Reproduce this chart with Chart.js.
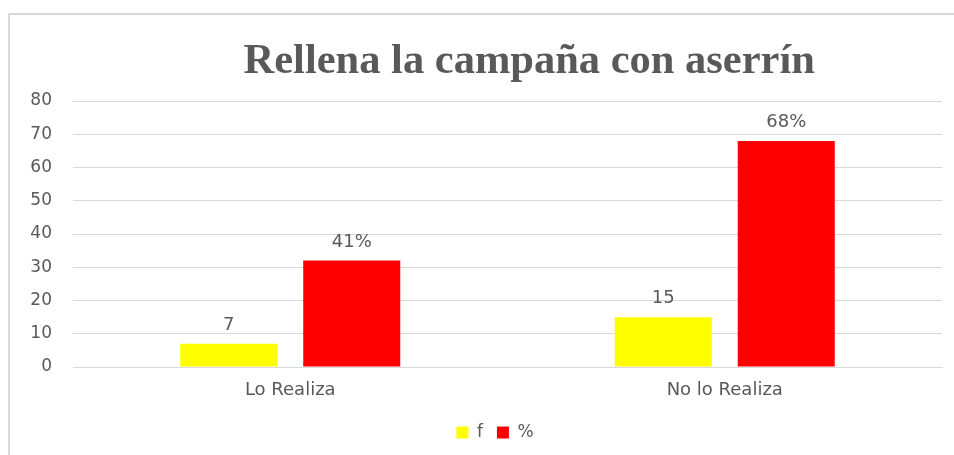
<!DOCTYPE html>
<html>
<head>
<meta charset="utf-8">
<script src="https://cdn.jsdelivr.net/npm/chart.js@4.4.1/dist/chart.umd.min.js"></script>
<style>
  html, body { margin: 0; padding: 0; background: #fff; overflow: hidden; }
  #wrap { position: relative; width: 954px; height: 455px; }
  #frame { position: absolute; left: 8px; top: 13px; width: 1000px; height: 500px;
           border-left: 2px solid #d9d9d9; border-top: 2px solid #d9d9d9; box-sizing: border-box; pointer-events: none; }
  canvas { position: absolute; left: 0; top: 0; }
</style>
</head>
<body>
<div id="wrap">
  <div id="frame"></div>
  <canvas id="c" width="954" height="455"></canvas>
</div>
<script>
const chartTitle = 'Rellena la campaña con aserrín';
const categories = ['Lo Realiza', 'No lo Realiza'];
const seriesNames = ['f', '%'];
const fValues = [7, 15];
const pctValues = [32, 68];
const fLabels = ['7', '15'];
const pctLabels = ['41%', '68%'];
const yTicks = [0, 10, 20, 30, 40, 50, 60, 70, 80];

const GRAY = '#595959';
const SANS = '"DejaVu Sans", "Open Sans", sans-serif';

const valueLabels = {
  id: 'valueLabels',
  afterDatasetsDraw(chart) {
    const ctx = chart.ctx;
    ctx.save();
    ctx.fillStyle = GRAY;
    ctx.font = '18px ' + SANS;
    ctx.textAlign = 'center';
    ctx.textBaseline = 'alphabetic';
    chart.data.datasets.forEach((ds, di) => {
      const meta = chart.getDatasetMeta(di);
      meta.data.forEach((bar, i) => {
        ctx.fillText(ds.valueText[i], bar.x, bar.y - 14);
      });
    });
    ctx.restore();
  }
};

const shiftedTitle = {
  id: 'shiftedTitle',
  afterDraw(chart) {
    const ctx = chart.ctx;
    const a = chart.chartArea;
    ctx.save();
    ctx.fillStyle = GRAY;
    ctx.font = 'bold 42.5px "Liberation Serif", "Times New Roman", serif';
    ctx.textAlign = 'center';
    ctx.textBaseline = 'alphabetic';
    ctx.fillText(chartTitle, a.left + a.width * 0.525, a.top - 28);
    ctx.restore();
  }
};

const legendShift = {
  id: 'legendShift',
  afterLayout(chart) {
    if (chart.legend) {
      chart.legend.left += 24;
      chart.legend.right += 24;
    }
  }
};

new Chart(document.getElementById('c'), {
  type: 'bar',
  data: {
    labels: categories,
    datasets: [
      { label: seriesNames[0], data: fValues, valueText: fLabels, backgroundColor: '#ffff00',
        categoryPercentage: 0.566, barPercentage: 0.789 },
      { label: seriesNames[1], data: pctValues, valueText: pctLabels, backgroundColor: '#ff0000',
        categoryPercentage: 0.566, barPercentage: 0.789 }
    ]
  },
  options: {
    responsive: false,
    animation: false,
    devicePixelRatio: 1,
    layout: { padding: { top: 101, right: 12, left: 0, bottom: 4 } },
    plugins: {
      title: { display: false },
      tooltip: { enabled: false },
      legend: {
        position: 'bottom',
        labels: {
          color: GRAY,
          font: { family: SANS, size: 17 },
          boxWidth: 12, boxHeight: 12, padding: 14
        }
      }
    },
    scales: {
      x: {
        grid: { display: false, drawTicks: false },
        border: { display: true, color: '#d9d9d9', width: 1 },
        afterFit(scale) { scale.height = 43; },
        ticks: { color: GRAY, font: { family: SANS, size: 18 }, padding: 13 }
      },
      y: {
        min: 0, max: 80,
        afterBuildTicks(scale) { scale.ticks = yTicks.map(v => ({ value: v })); },
        afterFit(scale) { scale.width = 73; },
        grid: { color: '#d9d9d9', lineWidth: 1, drawTicks: false },
        border: { display: false },
        ticks: { color: GRAY, font: { family: SANS, size: 17 }, padding: 21 }
      }
    }
  },
  plugins: [valueLabels, shiftedTitle, legendShift]
});
</script>
</body>
</html>
